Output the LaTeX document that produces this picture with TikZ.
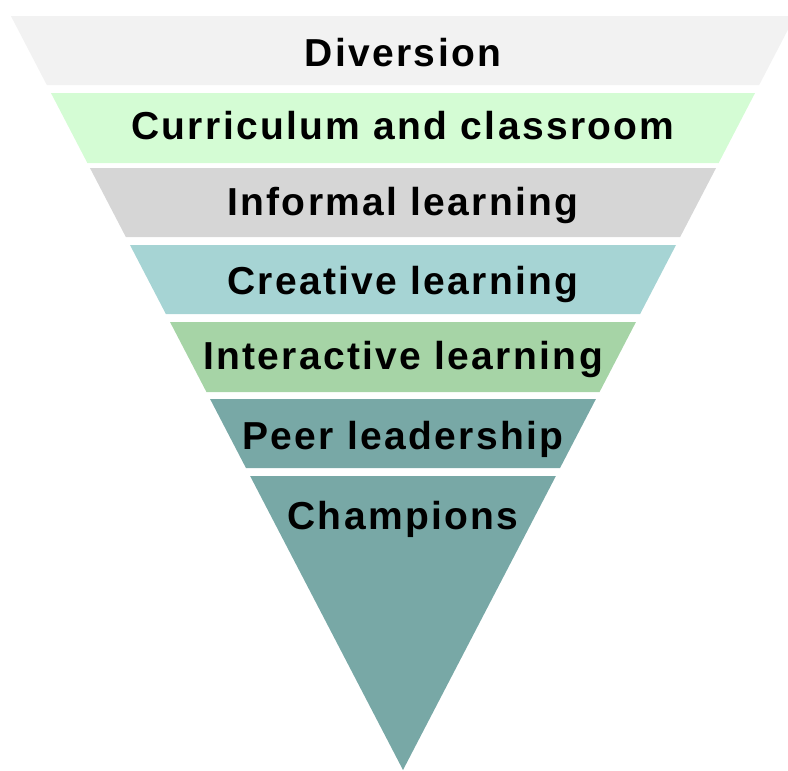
\documentclass[tikz,border=0pt]{standalone}
\usepackage{fontspec}
\newfontfamily\bandfont[LetterSpace=6]{Liberation Sans}
\definecolor{bandA}{HTML}{F2F2F2}
\definecolor{bandB}{HTML}{D4FCD4}
\definecolor{bandC}{HTML}{D6D6D6}
\definecolor{bandD}{HTML}{A6D4D4}
\definecolor{bandE}{HTML}{A6D4A6}
\definecolor{bandF}{HTML}{78A8A6}
\definecolor{bandG}{HTML}{78A8A6}
\tikzset{
  bandlabel/.style={inner sep=0pt, anchor=base, text=black,
    font=\bandfont\bfseries\fontsize{39}{39}\selectfont}
}
\begin{document}
\begin{tikzpicture}[x=1pt,y=-1pt]
\useasboundingbox (0,0) rectangle (788,771);
\clip (0,0) rectangle (788,771);
\foreach \t/\b/\c/\n/\txt/\bl in {
  16/85/bandA/diversion/{Diversion}/66,
  93/163/bandB/curriculum/{Curriculum and classroom}/139.5,
  168/237/bandC/informal/{Informal learning}/215,
  245/314/bandD/creative/{Creative learning}/294,
  322/392/bandE/interactive/{Interactive learning}/369,
  399/468/bandF/peer/{Peer leadership}/449,
  476/770/bandG/champions/{Champions}/529}{
  \pgfmathsetmacro\lt{403-0.52*(770-\t)}
  \pgfmathsetmacro\rt{403+0.52*(770-\t)}
  \pgfmathsetmacro\lb{403-0.52*(770-\b)}
  \pgfmathsetmacro\rb{403+0.52*(770-\b)}
  \fill[\c] (\lt,\t) -- (\rt,\t) -- (\rb,\b) -- (\lb,\b) -- cycle;
  \node[bandlabel] (\n) at (403,\bl) {\txt};
}
\end{tikzpicture}
\end{document}
